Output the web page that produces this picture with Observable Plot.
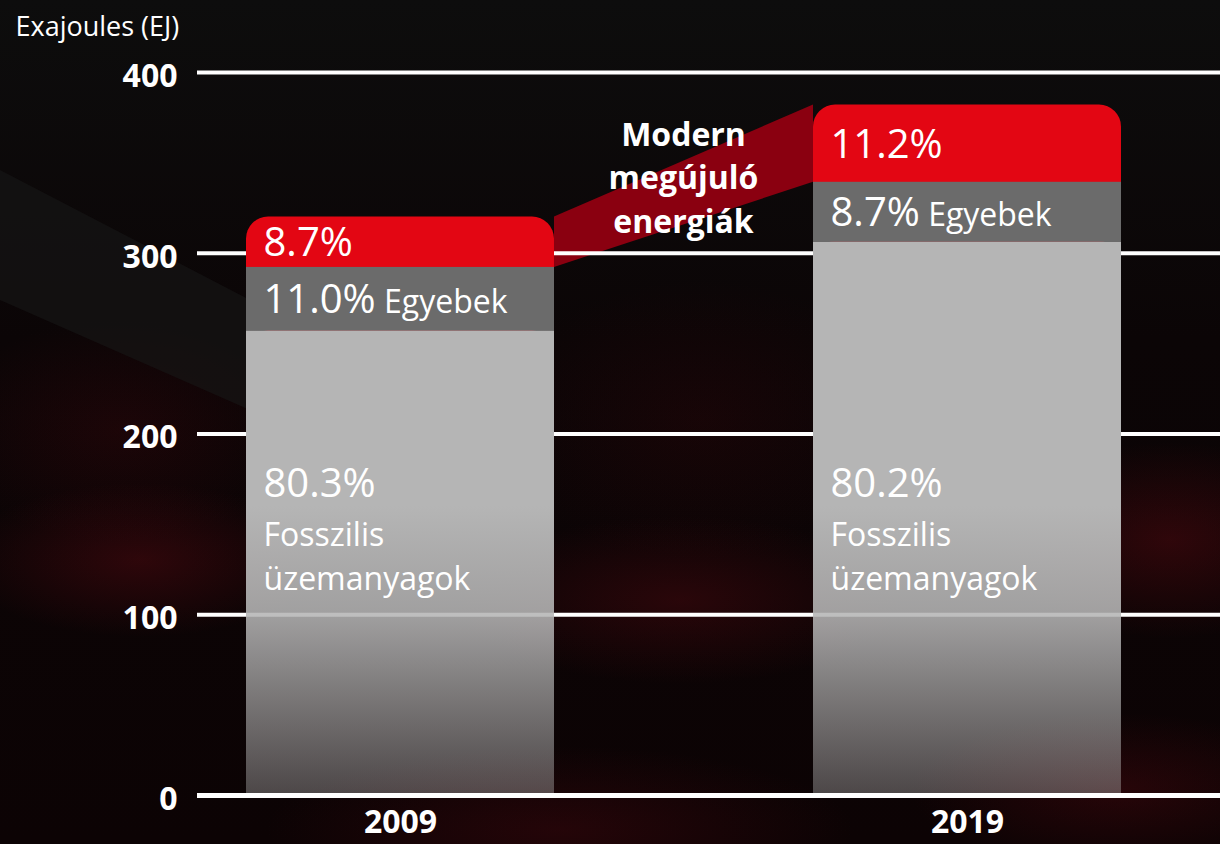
<!DOCTYPE html>
<html>
<head>
<meta charset="utf-8">
<script src="https://cdn.jsdelivr.net/npm/d3@7"></script>
<script src="https://cdn.jsdelivr.net/npm/@observablehq/plot@0.6"></script>
<style>
html, body { margin: 0; padding: 0; width: 1220px; height: 844px; overflow: hidden; background: #0b0304; }
#bg { position: absolute; left: 0; top: 0; width: 1220px; height: 844px;
  background:
    radial-gradient(ellipse 260px 110px at 140px 560px, rgba(120,12,22,0.32), transparent 70%),
    radial-gradient(ellipse 320px 120px at 680px 600px, rgba(120,12,22,0.28), transparent 70%),
    radial-gradient(ellipse 260px 140px at 1170px 540px, rgba(130,12,22,0.30), transparent 70%),
    radial-gradient(ellipse 300px 110px at 1120px 790px, rgba(120,12,22,0.25), transparent 70%),
    radial-gradient(ellipse 420px 120px at 560px 830px, rgba(100,10,20,0.28), transparent 70%),
    radial-gradient(ellipse 260px 160px at 120px 430px, rgba(90,8,16,0.22), transparent 70%),
    radial-gradient(ellipse 300px 200px at 700px 420px, rgba(80,8,14,0.18), transparent 70%),
    linear-gradient(180deg, #0d0d0d 0%, #0b0506 40%, #0c0304 100%);
}
#band { position: absolute; left: 0; top: 0; width: 250px; height: 844px; background: #181818;
  clip-path: polygon(0 170px, 250px 300px, 250px 410px, 0 300px); opacity: 0.6; }
#chart { position: absolute; left: 0; top: 0; }
</style>
</head>
<body>
<div id="bg"></div>
<div id="band"></div>
<div id="chart"></div>
<script>
// ---- data ----
const years = ["2009", "2019"];
const totals = [320, 382];            // EJ, total final energy consumption
const renewShare = [8.7, 11.2];       // %
const otherShare = [11.0, 8.7];       // %
const fossilShare = [80.3, 80.2];     // %
const yTicks = [0, 100, 200, 300, 400];
const yLabel = "Exajoules (EJ)";
const renewLabel = ["Modern", "megújuló", "energiák"];
const otherLabel = "Egyebek";
const fossilLabel = "Fosszilis\nüzemanyagok";

const rows = years.map((year, i) => {
  const s = fossilShare[i] + otherShare[i] + renewShare[i];
  const fossil = totals[i] * fossilShare[i] / s;
  const other = totals[i] * otherShare[i] / s;
  return {
    year, total: totals[i], fossil, otherTop: fossil + other,
    renewPct: renewShare[i].toFixed(1) + "%",
    otherPct: otherShare[i].toFixed(1) + "%",
    fossilPct: fossilShare[i].toFixed(1) + "%"
  };
});

// ---- layout ----
const FONT = "'Open Sans', sans-serif";
const padInner = 0.4568;
const xRange = [246, 1121];
const step = (xRange[1] - xRange[0]) / (years.length - padInner);
const bw = step * (1 - padInner);
const leftPad = 17;
const dxLeft = -bw / 2 + leftPad;

const ctx = document.createElement("canvas").getContext("2d");
function textW(s, size, weight = "normal") {
  ctx.font = `${weight} ${size}px "Open Sans"`;
  return ctx.measureText(s).width;
}

const otherMarks = rows.flatMap(r => [
  Plot.text([r], {x: "year", y: d => (d.fossil + d.otherTop) / 2, text: "otherPct",
    textAnchor: "start", lineAnchor: "bottom", dx: dxLeft, dy: 14, fontSize: 40, fill: "white"}),
  Plot.text([r], {x: "year", y: d => (d.fossil + d.otherTop) / 2, text: () => otherLabel,
    textAnchor: "start", lineAnchor: "bottom", dx: dxLeft + textW(r.otherPct, 40) + textW(" ", 32), dy: 14,
    fontSize: 32, fill: "white"})
]);

const plot = Plot.plot({
  width: 1220,
  height: 844,
  marginLeft: 197,
  marginRight: 0,
  marginTop: 72,
  marginBottom: 49,
  style: {background: "transparent", color: "white", fontFamily: FONT},
  x: {domain: years, range: xRange, paddingInner: padInner, paddingOuter: 0, round: false, axis: null},
  y: {domain: [0, 400], axis: null},
  marks: [
    Plot.ruleY(yTicks.filter(d => d > 0), {stroke: "white", strokeWidth: 4}),
    Plot.barY(rows, {x: "year", y1: "fossil", y2: "total", fill: "#e30613", rx: 22}),
    Plot.barY(rows, {x: "year", y1: "fossil", y2: "otherTop", fill: "#6b6b6b"}),
    Plot.barY(rows, {x: "year", y1: () => 0, y2: "fossil", fill: "url(#fossilGrad)"}),
    Plot.ruleY([0], {stroke: "white", strokeWidth: 5}),
    Plot.text(yTicks, {y: d => d, text: d => String(d), frameAnchor: "left", textAnchor: "end",
      dx: -20, dy: 4, fontSize: 32, fontWeight: "bold", fill: "white"}),
    Plot.text(rows, {x: "year", text: "year", frameAnchor: "bottom", lineAnchor: "bottom",
      dy: 37, fontSize: 32, fontWeight: "bold", fill: "white"}),
    Plot.text(rows, {x: "year", y: d => (d.otherTop + d.total) / 2, text: "renewPct",
      textAnchor: "start", lineAnchor: "bottom", dx: dxLeft, dy: 14, fontSize: 40, fill: "white"}),
    ...otherMarks,
    Plot.text(rows, {x: "year", y: () => 165, text: "fossilPct", textAnchor: "start",
      lineAnchor: "bottom", dx: dxLeft, fontSize: 40, fill: "white"}),
    Plot.text(rows, {x: "year", y: () => 113.5, text: () => fossilLabel, textAnchor: "start",
      lineAnchor: "bottom", lineHeight: 1.4, dx: dxLeft, fontSize: 32, fill: "white"}),
    Plot.text([yLabel], {text: d => d, frameAnchor: "top-left", textAnchor: "start", lineAnchor: "bottom",
      dx: -182, dy: -37, fontSize: 27, fill: "white"})
  ]
});

document.getElementById("chart").appendChild(plot);

// ---- gradient, connecting band and its label, using the plot's own scales ----
const svg = d3.select(plot);
const xS = plot.scale("x"), yS = plot.scale("y");
const defs = svg.insert("defs", ":first-child");
const grad = defs.append("linearGradient").attr("id", "fossilGrad")
  .attr("gradientUnits", "userSpaceOnUse")
  .attr("x1", 0).attr("x2", 0).attr("y1", yS.apply(300)).attr("y2", yS.apply(0));
[[0, 1], [(300 - 160) / 300, 1], [(300 - 100) / 300, 0.88], [1, 0.38]].forEach(([o, a]) =>
  grad.append("stop").attr("offset", o).attr("stop-color", "#b5b5b5").attr("stop-opacity", a));

const bandW = xS.bandwidth;
const a = rows[0], b = rows[1];
const xa = xS.apply(a.year) + bandW, xb = xS.apply(b.year);
const pts = [[xa, yS.apply(a.total)], [xb, yS.apply(b.total)], [xb, yS.apply(b.otherTop)], [xa, yS.apply(a.otherTop)]];
svg.insert("path", "g").attr("d", "M" + pts.map(p => p.join(",")).join("L") + "Z").attr("fill", "#8a0010");

const midX = (xa + xb) / 2;
const t = svg.append("text").attr("text-anchor", "middle").attr("fill", "white")
  .attr("font-family", FONT).attr("font-weight", "bold").attr("font-size", 32);
renewLabel.forEach((line, i) => {
  t.append("tspan").attr("x", midX).attr("y", yS.apply(335) + (i - 1) * 43.5).text(line);
});
</script>
</body>
</html>
